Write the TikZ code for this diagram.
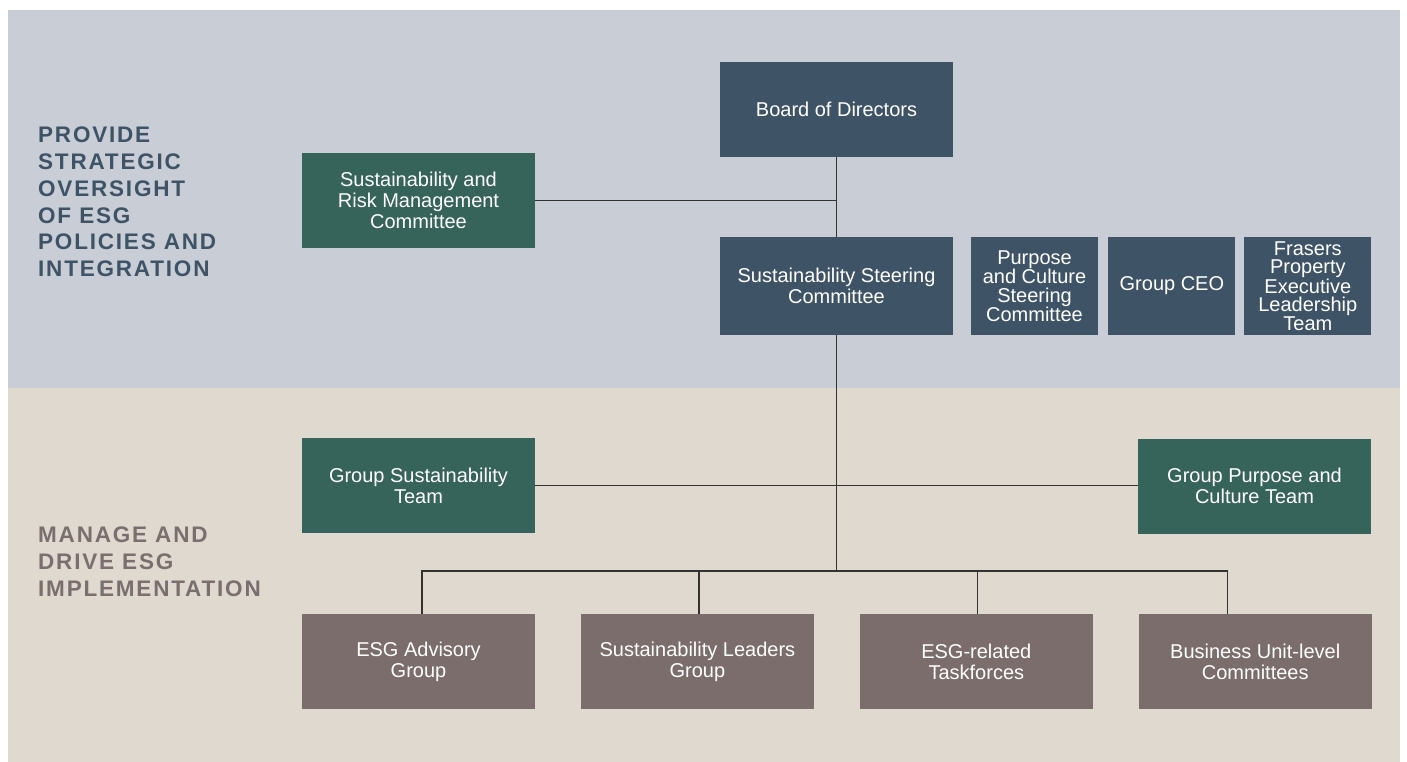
\documentclass[tikz,border=0pt]{standalone}
\usepackage{fontspec}
\setmainfont{Liberation Sans}
\newfontfamily\headfont[LetterSpace=8]{Liberation Sans}
\usetikzlibrary{positioning}

\definecolor{oversightbg}{HTML}{C8CDD6}
\definecolor{managebg}{HTML}{E0D9CF}
\definecolor{slate}{HTML}{3E5366}
\definecolor{pine}{HTML}{36635A}
\definecolor{taupe}{HTML}{7A6D6C}
\definecolor{headtaupe}{HTML}{7A6F6E}
\definecolor{linkgray}{HTML}{333333}

\begin{document}
\begin{tikzpicture}[x=1pt, y=-1pt,
    node distance=45.5pt,
    box/.style={rectangle, text=white, align=center, inner sep=0pt, minimum width=233pt, minimum height=95pt, font=\fontsize{20}{21}\selectfont},
    board/.style={box, fill=slate},
    committee/.style={box, fill=pine},
    unit/.style={box, fill=taupe},
    narrow/.style={box, fill=slate, minimum width=127pt, minimum height=98pt, font=\fontsize{20}{19}\selectfont},
    heading/.style={anchor=north west, align=left, inner sep=0pt, font=\headfont\bfseries\fontsize{22.5}{26.7}\selectfont},
    link/.style={draw=linkgray, line width=1.2pt}
]
    \useasboundingbox (0,0) rectangle (1407,762);
    \fill [oversightbg] (8,10) rectangle (1400,388);
    \fill [managebg] (8,388) rectangle (1400,762);

    \node [heading, text=slate] (oversight) at (38,127) {PROVIDE\\STRATEGIC\\OVERSIGHT\\OF ESG\\POLICIES AND\\INTEGRATION};
    \node [heading, text=headtaupe] (manage) at (38,527) {MANAGE AND\\DRIVE ESG\\IMPLEMENTATION};

    \node [board] (board) at (836.5,109.5) {Board of Directors};
    \node [board, minimum height=98pt] (ssc) at (836.5,286) {Sustainability Steering\\Committee};
    \node [committee] (srmc) at (418.5,200.5) {Sustainability and\\Risk Management\\Committee};
    \node [narrow] (pcsc) at (1034.5,286) {Purpose\\and Culture\\Steering\\Committee};
    \node [narrow, right=10pt of pcsc] (ceo) {Group CEO};
    \node [narrow, right=8.5pt of ceo, font=\fontsize{20}{18.5}\selectfont] (fpelt) {Frasers\\Property\\Executive\\Leadership\\Team};

    \node [committee] (gst) at (418.5,485.5) {Group Sustainability\\Team};
    \node [committee] (gpct) at (1254.5,486) {Group Purpose and\\Culture Team};

    \node [unit] (adv) at (418.5,661.5) {ESG Advisory\\Group};
    \node [unit, right=of adv] (slg) {Sustainability Leaders\\Group};
    \node [unit, right=of slg] (tf) {ESG-related\\Taskforces};
    \node [unit, right=of tf] (buc) {Business Unit-level\\Committees};

    \coordinate (bar) at (836.5,571);
    \draw [link] (board) -- (ssc);
    \draw [link] (srmc.east) -- (srmc.east -| board.south);
    \draw [link] (ssc) -- (bar);
    \draw [link] (gst.east) -- (gst.east -| gpct.west);
    \draw [link] ([xshift=3.5pt]adv.north) |- (bar) -| ([xshift=-27.5pt]buc.north);
    \draw [link] ([xshift=1.5pt]slg.north) -- ([xshift=1.5pt]slg.north |- bar);
    \draw [link] ([xshift=1.5pt]tf.north) -- ([xshift=1.5pt]tf.north |- bar);
\end{tikzpicture}
\end{document}
